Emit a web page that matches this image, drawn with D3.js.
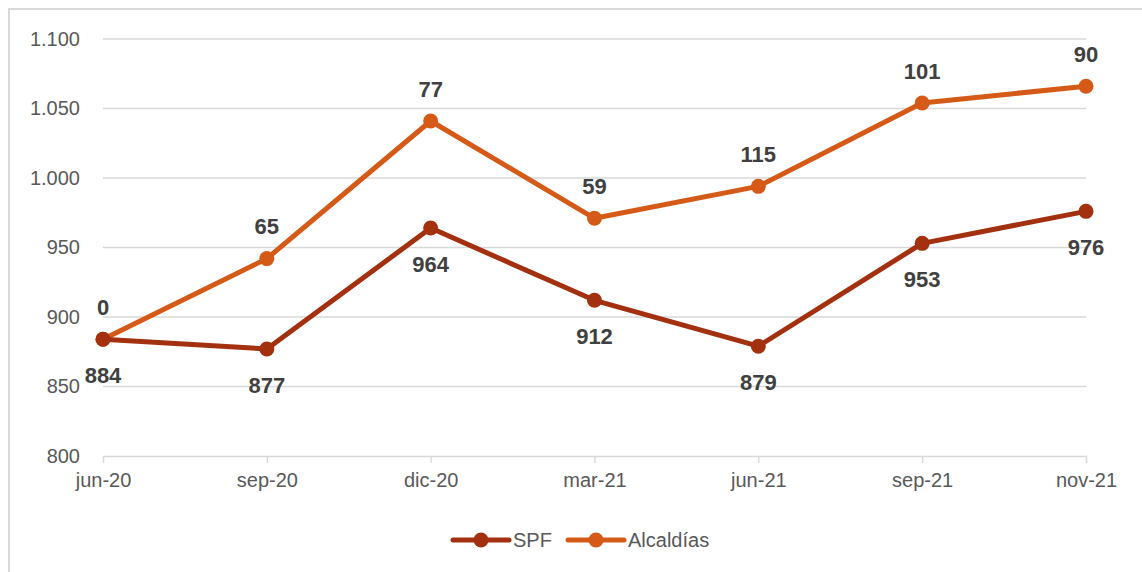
<!DOCTYPE html>
<html>
<head>
<meta charset="utf-8">
<script src="https://cdn.jsdelivr.net/npm/d3@7"></script>
<style>
  body { margin: 0; background: #fff; }
  svg { display: block; }
</style>
</head>
<body>
<div id="chart"></div>
<script>
const categories = ["jun-20", "sep-20", "dic-20", "mar-21", "jun-21", "sep-21", "nov-21"];
const spf = [884, 877, 964, 912, 879, 953, 976];
// Alcaldías is stacked on top of SPF; the labels show its own value
const alcaldias = [0, 65, 77, 59, 115, 101, 90];
const yTicks = [800, 850, 900, 950, 1000, 1050, 1100];

const width = 1142,
    height = 572;

const svg = d3.select("#chart").append("svg")
    .attr("width", width)
    .attr("height", height)
    .style("font-family", "'Liberation Sans', Arial, sans-serif");

// chart area border (right and bottom edges fall outside the picture)
svg.append("rect")
    .attr("x", 9).attr("y", 9)
    .attr("width", width + 20).attr("height", height + 20)
    .attr("fill", "#fff")
    .attr("stroke", "#d9d9d9")
    .attr("stroke-width", 2);

const x = d3.scalePoint().domain(categories).range([103, 1086]);
const y = d3.scaleLinear().domain([800, 1100]).range([456, 39]);

const fmt = d3.formatLocale({decimal: ",", thousands: ".", grouping: [3]}).format(",");

// gridlines
svg.append("g")
    .selectAll("line")
    .data(yTicks.slice(1))
    .join("line")
    .attr("x1", 103).attr("x2", 1086)
    .attr("y1", d => y(d)).attr("y2", d => y(d))
    .attr("stroke", "#d9d9d9")
    .attr("stroke-width", 1.3);

// y axis labels
const yAxis = svg.append("g")
    .attr("transform", "translate(80,0)")
    .call(d3.axisLeft(y).tickValues(yTicks).tickFormat(fmt).tickSize(0).tickPadding(0));
yAxis.select(".domain").remove();
yAxis.selectAll("text")
    .attr("fill", "#595959")
    .style("font-size", "20px")
    .style("font-family", "'Liberation Sans', Arial, sans-serif");

// x axis
const xAxis = svg.append("g")
    .attr("transform", `translate(0,${y(800)})`)
    .call(d3.axisBottom(x).tickSize(7).tickPadding(10));
xAxis.select(".domain").attr("stroke", "#d9d9d9").attr("stroke-width", 1.3);
xAxis.selectAll(".tick line").attr("stroke", "#d9d9d9").attr("stroke-width", 1.3);
xAxis.selectAll("text")
    .attr("fill", "#595959")
    .style("font-size", "20px")
    .style("font-family", "'Liberation Sans', Arial, sans-serif");

const stacked = spf.map((v, i) => v + alcaldias[i]);

const series = [
    {name: "SPF", color: "#a3300f", top: spf, labels: spf, dy: 36},
    {name: "Alcaldías", color: "#d65a17", top: stacked, labels: alcaldias, dy: -32}
];

const line = d3.line()
    .x((d, i) => x(categories[i]))
    .y(d => y(d));

series.slice().reverse().forEach(function(s) {
    const g = svg.append("g");
    g.append("path")
        .attr("d", line(s.top))
        .attr("fill", "none")
        .attr("stroke", s.color)
        .attr("stroke-width", 5)
        .attr("stroke-linejoin", "round");
    g.selectAll("circle")
        .data(s.top)
        .join("circle")
        .attr("cx", (d, i) => x(categories[i]))
        .attr("cy", d => y(d))
        .attr("r", 7.5)
        .attr("fill", s.color);
});

series.forEach(function(s) {
    svg.append("g")
        .selectAll("text")
        .data(s.top)
        .join("text")
        .attr("x", (d, i) => x(categories[i]))
        .attr("y", d => y(d) + s.dy)
        .attr("dy", "0.35em")
        .attr("text-anchor", "middle")
        .attr("fill", "#404040")
        .style("font-size", "22px")
        .style("font-weight", "bold")
        .text((d, i) => fmt(s.labels[i]));
});

// legend
const legendX = [453, 568];
const legend = svg.append("g")
    .selectAll("g")
    .data(series)
    .join("g")
    .attr("transform", (d, i) => `translate(${legendX[i]},540)`);
legend.append("line")
    .attr("x1", 0).attr("x2", 56)
    .attr("stroke", d => d.color)
    .attr("stroke-width", 5)
    .attr("stroke-linecap", "round");
legend.append("circle")
    .attr("cx", 28)
    .attr("r", 7.5)
    .attr("fill", d => d.color);
legend.append("text")
    .attr("x", 60)
    .attr("dy", "0.35em")
    .attr("fill", "#595959")
    .style("font-size", "20px")
    .text(d => d.name);
</script>
</body>
</html>
